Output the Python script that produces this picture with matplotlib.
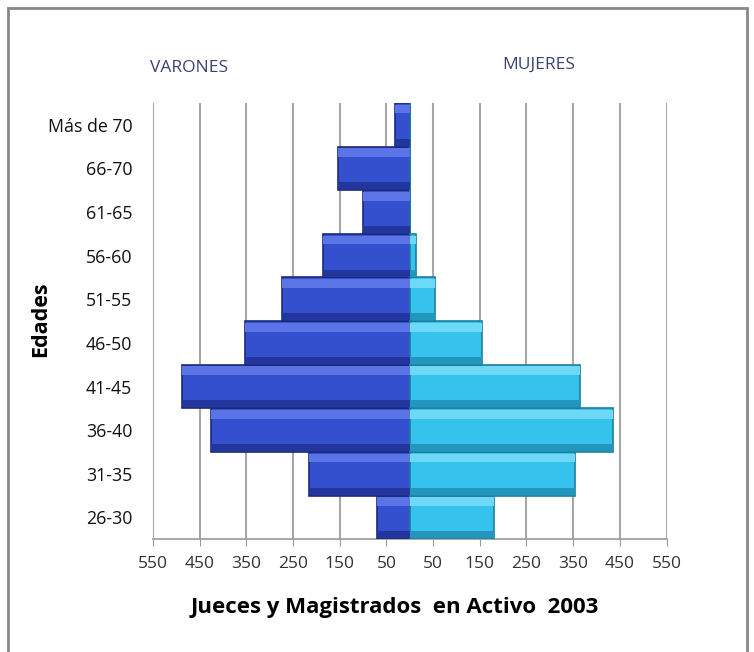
import numpy as np
import matplotlib
matplotlib.use("Agg")
import matplotlib.pyplot as plt
from matplotlib.patches import Rectangle

# age groups, bottom to top
edades = ["26-30", "31-35", "36-40", "41-45", "46-50",
          "51-55", "56-60", "61-65", "66-70", "Más de 70"]
varones = [70, 216, 426, 488, 354, 274, 186, 100, 154, 32]
mujeres = [180, 354, 436, 364, 155, 54, 13, 0, 0, 0]
ticks = [-550, -450, -350, -250, -150, -50, 50, 150, 250, 350, 450, 550]

plt.rcParams["font.family"] = ["Open Sans", "DejaVu Sans"]

fig = plt.figure(figsize=(7.54, 6.52), dpi=100)
ax = fig.add_axes([0.203, 0.173, 0.681, 0.669])

y = np.arange(len(edades))
v = -np.array(varones)
m = np.array(mujeres)

ax.barh(y, v, height=1.0, color="#3550CF", edgecolor="#1B2A7A", linewidth=1.2, zorder=3)
ax.barh(y, m, height=1.0, color="#35C3EE", edgecolor="#1D7F9E", linewidth=1.2, zorder=3)
# bevel highlight on top of each bar
ax.barh(y + 0.36, v, height=0.2, color="#5B74E6", linewidth=0, zorder=4)
ax.barh(y + 0.36, m, height=0.2, color="#6ED9F7", linewidth=0, zorder=4)
ax.barh(y - 0.4, v, height=0.16, color="#22369E", linewidth=0, zorder=4)
ax.barh(y - 0.4, m, height=0.16, color="#2296BC", linewidth=0, zorder=4)

ax.set_xlim(-550, 550)
ax.set_ylim(-0.5, len(edades) - 0.5)
ax.set_xticks(ticks)
ax.set_xticklabels([str(abs(t)) for t in ticks], fontsize=12.5, color="#333333")
ax.set_yticks(y)
ax.set_yticklabels(edades, fontsize=12.8, color="#111111")
ax.tick_params(axis="y", length=0, pad=15)
ax.tick_params(axis="x", length=5, color="#999999", pad=7)
ax.grid(axis="x", color="#A6A6A6", linewidth=1.5, zorder=0)

for s in ["top", "right", "left"]:
    ax.spines[s].set_visible(False)
ax.spines["bottom"].set_color("#999999")
ax.spines["bottom"].set_linewidth(1.2)

ax.set_xlabel("Jueces y Magistrados  en Activo  2003", fontsize=16,
              fontweight="bold")
ax.xaxis.set_label_coords(0.471, -0.132)
ax.set_ylabel("Edades", fontsize=15.5, fontweight="bold")
ax.yaxis.set_label_coords(-0.198, 0.505)

fig.text(0.251, 0.896, "VARONES", fontsize=12.5, color="#3A4272", ha="center", va="center")
fig.text(0.715, 0.901, "MUJERES", fontsize=12.5, color="#3A4272", ha="center", va="center")

# outer frame
fig.patches.append(Rectangle((0.01, -0.05), 0.981, 1.038, transform=fig.transFigure,
                             fill=False, edgecolor="#888888", linewidth=2))

fig.savefig("out.png", dpi=100)
